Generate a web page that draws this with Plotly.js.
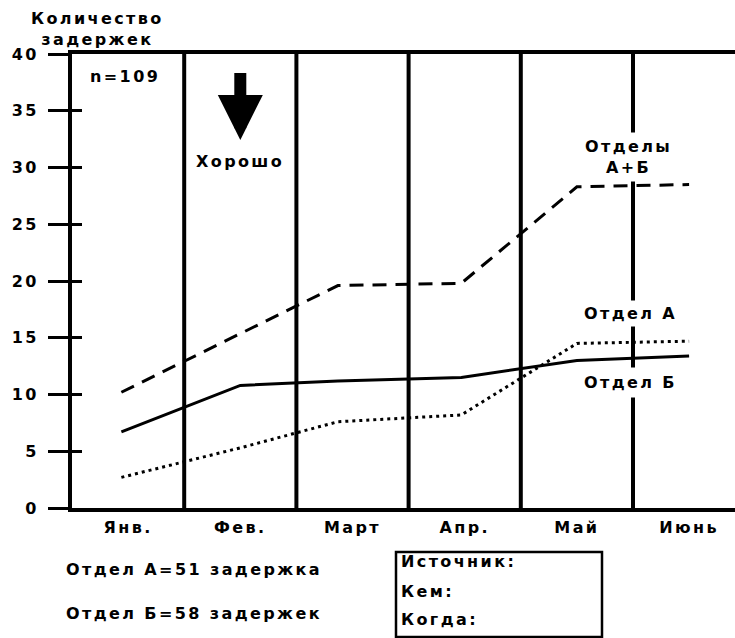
<!DOCTYPE html>
<html><head><meta charset="utf-8">
<script src="https://cdn.plot.ly/plotly-3.0.1.min.js"></script>
<style>
html,body{margin:0;padding:0;background:#fff;}
#chart{width:735px;height:638px;}
svg text{letter-spacing:2.4px;}
</style></head><body><div id="chart"></div>
<script>
// ---- data ----
const months = ['Янв.', 'Фев.', 'Март', 'Апр.', 'Май', 'Июнь'];
const monthIndex = [0, 1, 2, 3, 4, 5];
const pointX = [-0.06, 1.0, 1.87, 2.97, 4.0, 5.0];
const totalAB = [10.2, 15.4, 19.6, 19.8, 28.3, 28.5];   // Отделы А+Б (dashed)
const deptA = [2.7, 5.3, 7.6, 8.2, 14.5, 14.7];         // Отдел А (dotted)
const deptB = [6.7, 10.8, 11.2, 11.5, 13.0, 13.4];      // Отдел Б (solid)
const yTicks = [0, 5, 10, 15, 20, 25, 30, 35, 40];
const monthBounds = [0.5, 1.5, 2.5, 3.5, 4.5];

// ---- layout helpers (pixel -> paper) ----
const L = 72, T = 54, W = 663, H = 454;
const px = v => (v - L) / W;
const py = v => (T + H - v) / H;

const FONT = {family: 'DejaVu Sans, Liberation Sans, sans-serif', size: 16, color: '#000', weight: 700};

const traces = [
  {x: pointX, y: totalAB, mode: 'lines', line: {color: '#000', width: 3, dash: '14px,9px'}, showlegend: false, hoverinfo: 'skip'},
  {x: pointX, y: deptB, mode: 'lines', line: {color: '#000', width: 3}, showlegend: false, hoverinfo: 'skip'},
  {x: pointX, y: deptA, mode: 'lines', line: {color: '#000', width: 3, dash: '3px,4px'}, showlegend: false, hoverinfo: 'skip'},
  {x: [], y: [], yaxis: 'y2', mode: 'lines', showlegend: false, hoverinfo: 'skip'}
];

const shapes = monthBounds.map(b => ({
  type: 'line', xref: 'x', yref: 'paper', x0: b, x1: b, y0: 0, y1: 1,
  line: {color: '#000', width: 4}, layer: 'below'
}));
shapes.push({type: 'rect', xref: 'paper', yref: 'paper',
  x0: px(396), x1: px(602), y0: py(552), y1: py(637),
  line: {color: '#000', width: 2.5}, fillcolor: 'rgba(0,0,0,0)'});

const ann = (text, x, y, extra) => Object.assign({
  text: text, xref: 'paper', yref: 'paper', x: x, y: y,
  xanchor: 'center', yanchor: 'middle', showarrow: false, font: FONT
}, extra || {});

const annotations = [
  ann('Количество<br>задержек', px(97), py(29)),
  ann('n=109', px(125), py(76)),
  ann('Хорошо', 1, py(161), {xref: 'x'}),
  {text: ' ', xref: 'x', yref: 'paper', x: 1, y: py(140), showarrow: true,
   arrowhead: 2, arrowwidth: 12, arrowsize: 0.75, arrowcolor: '#000',
   ax: 0, ay: -69, standoff: 0, font: {size: 1}},
  ann('Отделы<br>А+Б', px(628), py(157), {bgcolor: '#fff', borderpad: 4}),
  ann('Отдел А', px(630), py(313), {bgcolor: '#fff', borderpad: 3}),
  ann('Отдел Б', px(630), py(382), {bgcolor: '#fff', borderpad: 5}),
  ann('Отдел А=51 задержка', px(64), py(569), {xanchor: 'left'}),
  ann('Отдел Б=58 задержек', px(64), py(613), {xanchor: 'left'}),
  ann('Источник:', px(399), py(561), {xanchor: 'left'}),
  ann('Кем:', px(399), py(591), {xanchor: 'left'}),
  ann('Когда:', px(399), py(619), {xanchor: 'left'})
];

const layout = {
  width: 735, height: 638,
  margin: {l: L, r: 735 - L - W, t: T, b: 638 - T - H, pad: 0},
  paper_bgcolor: '#fff', plot_bgcolor: '#fff',
  font: FONT,
  xaxis: {
    range: [-0.5, -0.5 + W / 112.2], tickmode: 'array', tickvals: monthIndex, ticktext: months,
    showline: true, linewidth: 4, linecolor: '#000', mirror: true,
    ticks: '', showgrid: false, zeroline: false, tickfont: FONT, ticklabelstandoff: 2, fixedrange: true
  },
  yaxis: {
    range: [0, 40], tickmode: 'array', tickvals: yTicks,
    ticks: 'outside', ticklen: 20, tickwidth: 3, tickcolor: '#000',
    showline: true, linewidth: 4, linecolor: '#000',
    showgrid: false, zeroline: false, tickfont: FONT, ticklabelstandoff: 6, fixedrange: true
  },
  yaxis2: {
    overlaying: 'y', side: 'left', range: [0, 40], tickmode: 'array', tickvals: yTicks.slice(1, -1),
    ticks: 'inside', ticklen: 10, tickwidth: 3, tickcolor: '#000',
    showticklabels: false, showline: false, showgrid: false, zeroline: false, fixedrange: true
  },
  shapes: shapes,
  annotations: annotations
};

Plotly.newPlot('chart', traces, layout, {staticPlot: true, displayModeBar: false});
</script></body></html>
